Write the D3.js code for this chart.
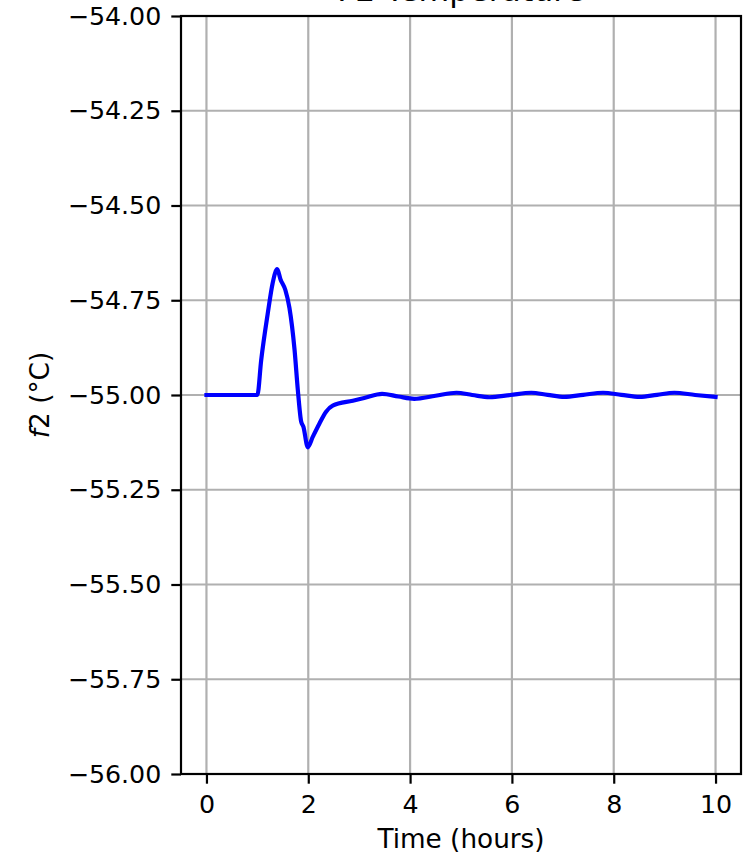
<!DOCTYPE html>
<html lang="en">
<head>
    <meta charset="UTF-8">
    <title>F2 Temperature</title>
    <script src="https://d3js.org/d3.v7.min.js"></script>
    <style>
        body { margin: 0; background: #fff; }
        text { font-family: "DejaVu Sans", sans-serif; fill: #000; }
        .grid line { stroke: #b0b0b0; stroke-width: 2.2px; }
        .axis path, .axis line { stroke: #000; stroke-width: 2.2px; }
        .axis text { font-size: 25.3px; }
    </style>
</head>
<body>
    <svg width="744" height="858"></svg>
    <script>
        // data
        const timeHours = [0, 0.5, 1.0, 1.075, 1.205, 1.30, 1.39, 1.455, 1.55, 1.63, 1.73, 1.795, 1.86, 1.905,
            1.99, 2.09, 2.22, 2.35, 2.48, 2.875, 3.1, 3.45, 3.77, 4.08, 4.5, 4.91, 5.22, 5.56, 5.97, 6.38,
            6.7, 7.03, 7.4, 7.79, 8.15, 8.51, 8.85, 9.19, 9.6, 10.0];
        const tempF2 = [-55.0, -55.0, -55.0, -54.908, -54.784, -54.705, -54.668, -54.695, -54.723, -54.77, -54.88,
            -54.987, -55.07, -55.084, -55.138, -55.11, -55.075, -55.044, -55.028, -55.015, -55.008, -54.997,
            -55.004, -55.010, -55.002, -54.994, -55.0, -55.006, -55.0, -54.994, -54.9995, -55.005, -54.9995,
            -54.994, -54.9995, -55.005, -54.9995, -54.994, -55.0, -55.005];
        const xTicks = [0, 2, 4, 6, 8, 10];
        const yTicks = [-54.0, -54.25, -54.5, -54.75, -55.0, -55.25, -55.5, -55.75, -56.0];

        const svg = d3.select("svg");
        const mLeft = 181, mRight = 741, mTop = 16, mBottom = 774;

        const x = d3.scaleLinear().domain([-0.5, 10.5]).range([mLeft, mRight]);
        const y = d3.scaleLinear().domain([-56, -54]).range([mBottom, mTop]);

        // grid
        const grid = svg.append("g").attr("class", "grid");
        grid.selectAll(".gx").data(xTicks).join("line")
            .attr("x1", d => x(d)).attr("x2", d => x(d))
            .attr("y1", mTop).attr("y2", mBottom);
        grid.selectAll(".gy").data(yTicks).join("line")
            .attr("y1", d => y(d)).attr("y2", d => y(d))
            .attr("x1", mLeft).attr("x2", mRight);

        const data = timeHours.map((t, i) => ({t: t, v: tempF2[i]}));
        const line = d3.line().x(d => x(d.t)).y(d => y(d.v)).curve(d3.curveMonotoneX);

        svg.append("path")
            .datum(data)
            .attr("d", line)
            .attr("fill", "none")
            .attr("stroke", "#0000ff")
            .attr("stroke-width", 4.2)
            .attr("stroke-linejoin", "round")
            .attr("stroke-linecap", "square");

        // axes
        svg.append("g")
            .attr("class", "axis")
            .attr("transform", `translate(0,${mBottom})`)
            .call(d3.axisBottom(x).tickValues(xTicks).tickSize(9.7).tickPadding(11.5).tickSizeOuter(0))
            .call(g => g.select(".domain").remove());
        svg.append("g")
            .attr("class", "axis")
            .attr("transform", `translate(${mLeft},0)`)
            .call(d3.axisLeft(y).tickValues(yTicks).tickFormat(d3.format(".2f")).tickSize(9.7).tickPadding(10).tickSizeOuter(0))
            .call(g => g.select(".domain").remove());

        // frame
        svg.append("rect")
            .attr("x", mLeft).attr("y", mTop)
            .attr("width", mRight - mLeft).attr("height", mBottom - mTop)
            .attr("fill", "none").attr("stroke", "#000").attr("stroke-width", 2.2);

        // labels
        svg.append("text")
            .attr("x", (mLeft + mRight) / 2).attr("y", 848)
            .attr("text-anchor", "middle").attr("font-size", 26.3)
            .text("Time (hours)");

        const yl = svg.append("text")
            .attr("transform", `translate(49,${(mTop + mBottom) / 2}) rotate(-90)`)
            .attr("text-anchor", "middle").attr("font-size", 26.3);
        yl.append("tspan").attr("font-style", "italic").text("f");
        yl.append("tspan").text("2 (°C)");

        svg.append("text")
            .attr("x", (mLeft + mRight) / 2).attr("y", 1)
            .attr("text-anchor", "middle").attr("font-size", 31.5)
            .text("F2 Temperature");
    </script>
</body>
</html>
